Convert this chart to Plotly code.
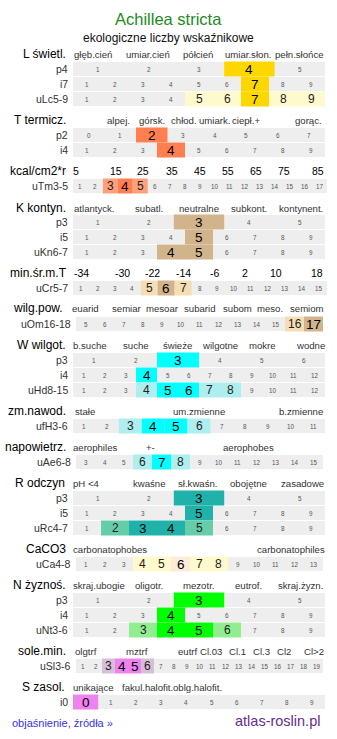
import plotly.graph_objects as go

# ------------------------------------------------------------------ data
TITLE = "Achillea stricta"
SUBTITLE = "ekologiczne liczby wskaźnikowe"
FOOT_LEFT = "objaśnienie, źródła »"
FOOT_RIGHT = "atlas-roslin.pl"

# section headers
headers = ["L świetl.", "T termicz.", "kcal/cm2*r", "K kontyn.", "min.śr.m.T",
           "wilg.pow.", "W wilgot.", "zm.nawod.", "napowietrz.", "R odczyn",
           "CaCO3", "N żyznoś.", "sole.min.", "S zasol."]

# category labels above the rows
L_labels = ["głęb.cień", "umiar.cień", "półcień", "umiar.słon.", "pełn.słońce"]
T_labels = ["alpej.", "górsk.", "chłod.", "umiark.", "ciepł.+", "gorąc."]
kcal_labels = ["5", "15", "25", "35", "45", "55", "65", "75", "85"]
K_labels = ["atlantyck.", "subatl.", "neutralne", "subkont.", "kontynent."]
minT_labels = ["-34", "-30", "-22", "-14", "-6", "2", "10", "18"]
wilg_labels = ["euarid", "semiar", "mesoar", "subarid", "subom", "meso.", "semiom"]
W_labels = ["b.suche", "suche", "świeże", "wilgotne", "mokre", "wodne"]
zm_labels = ["stałe", "um.zmienne", "b.zmienne"]
nap_labels = ["aerophiles", "+-", "aerophobes"]
R_labels = ["pH <4", "kwaśne", "sł.kwaśn.", "obojętne", "zasadowe"]
Ca_labels = ["carbonatophobes", "carbonatophiles"]
N_labels = ["skraj.ubogie", "oligotr.", "mezotr.", "eutrof.", "skraj.żyzn."]
sole_labels = ["olgtrf", "mztrf", "eutrf", "Cl.03", "Cl.1", "Cl.3", "Cl2", "Cl>2"]
S_labels = ["unikające", "fakul.halofit.", "oblg.halofit."]

# rows: name, first scale value, last scale value, main values, side values
L_rows = ["p4", "i7", "uLc5-9"];      L_lo = [1, 1, 1];   L_hi = [5, 9, 9]
L_main = [[4], [7], [7]];             L_side = [[], [], [5, 6, 8, 9]]
T_rows = ["p2", "i4"];                T_lo = [0, 1];      T_hi = [7, 9]
T_main = [[2], [4]];                  T_side = [[], []]
kcal_rows = ["uTm3-5"];               kcal_lo = [1];      kcal_hi = [17]
kcal_main = [[4]];                    kcal_side = [[3, 5]]
K_rows = ["p3", "i5", "uKn6-7"];      K_lo = [1, 1, 1];   K_hi = [5, 9, 9]
K_main = [[3], [5], [4, 5]];          K_side = [[], [], []]
minT_rows = ["uCr5-7"];               minT_lo = [1];      minT_hi = [15]
minT_main = [[6]];                    minT_side = [[5, 7]]
wilg_rows = ["uOm16-18"];             wilg_lo = [5];      wilg_hi = [17]
wilg_main = [[17]];                   wilg_side = [[16]]
W_rows = ["p3", "i4", "uHd8-15"];     W_lo = [1, 1, 1];   W_hi = [6, 12, 12]
W_main = [[3], [4], [5, 6]];          W_side = [[], [], [4, 7, 8]]
zm_rows = ["ufH3-6"];                 zm_lo = [1];        zm_hi = [11]
zm_main = [[4, 5]];                   zm_side = [[3, 6]]
nap_rows = ["uAe6-8"];                nap_lo = [3];       nap_hi = [15]
nap_main = [[7]];                     nap_side = [[6, 8]]
R_rows = ["p3", "i5", "uRc4-7"];      R_lo = [1, 1, 1];   R_hi = [5, 9, 9]
R_main = [[3], [5], [3, 4]];          R_side = [[], [], [2, 5]]
Ca_rows = ["uCa4-8"];                 Ca_lo = [1];        Ca_hi = [13]
Ca_main = [[6]];                      Ca_side = [[4, 5, 7, 8]]
N_rows = ["p3", "i4", "uNt3-6"];      N_lo = [1, 1, 1];   N_hi = [5, 9, 9]
N_main = [[3], [4], [4, 5]];          N_side = [[], [], [3, 6]]
sole_rows = ["uSl3-6"];               sole_lo = [1];      sole_hi = [19]
sole_main = [[4, 5]];                 sole_side = [[3, 6]]
S_rows = ["i0"];                      S_lo = [0];         S_hi = [9]
S_main = [[0]];                       S_side = [[]]

# ------------------------------------------------------------------ layout / style
FONT = "Liberation Sans, Arial, sans-serif"
W, H = 337, 739
GRAY = "#eeeeee"
PITCH = 15

sections = [
    # labels, rows, lo, hi, main, side, header y, first row y, span, label centres, main colour, side colour
    (L_labels, L_rows, L_lo, L_hi, L_main, L_side, 54, 69, (73, 325),
     [93, 148, 198, 248, 299], "#ffd700", "#fffacd"),
    (T_labels, T_rows, T_lo, T_hi, T_main, T_side, 120, 135, (73, 325),
     [118, 152, 184, 214, 246, 308], "#ff7f50", "#ffa07a"),
    (kcal_labels, kcal_rows, kcal_lo, kcal_hi, kcal_main, kcal_side, 171, 186, (73, 327),
     [76, 115.5, 143, 172, 200, 228, 256, 284, 318], "#ff7f50", "#ffa07a"),
    (K_labels, K_rows, K_lo, K_hi, K_main, K_side, 208, 222, (73, 325),
     [94, 149, 199, 249, 301], "#d2b48c", "#f5deb3"),
    (minT_labels, minT_rows, minT_lo, minT_hi, minT_main, minT_side, 273, 288, (73, 327),
     [81, 122, 152.5, 183, 214, 245, 276, 317], "#d2b48c", "#f5deb3"),
    (wilg_labels, wilg_rows, wilg_lo, wilg_hi, wilg_main, wilg_side, 308, 324, (76, 323),
     [85.5, 126.5, 162, 199, 237, 270, 307], "#d2b48c", "#f5deb3"),
    (W_labels, W_rows, W_lo, W_hi, W_main, W_side, 345, 360, (73, 325),
     [89.5, 136, 177, 220, 262, 310], "#00ffff", "#afeeee"),
    (zm_labels, zm_rows, zm_lo, zm_hi, zm_main, zm_side, 411, 426, (73, 325),
     [85, 199, 301], "#00ffff", "#afeeee"),
    (nap_labels, nap_rows, nap_lo, nap_hi, nap_main, nap_side, 447, 462, (76, 323),
     [94.5, 150, 248], "#00ffff", "#afeeee"),
    (R_labels, R_rows, R_lo, R_hi, R_main, R_side, 483, 498, (73, 325),
     [86.5, 149, 197, 248, 302], "#20b2aa", "#66cdaa"),
    (Ca_labels, Ca_rows, Ca_lo, Ca_hi, Ca_main, Ca_side, 549, 564, (76, 323),
     [110, 290.5], "#ffebd9", "#fffacd"),
    (N_labels, N_rows, N_lo, N_hi, N_main, N_side, 585, 600, (73, 325),
     [99, 149, 198, 248, 300], "#00ff00", "#90ee90"),
    (sole_labels, sole_rows, sole_lo, sole_hi, sole_main, sole_side, 651, 666, (76, 323),
     [85.5, 136.5, 188, 211, 237, 261.5, 283.5, 313.5], "#ee82ee", "#d8bfd8"),
    (S_labels, S_rows, S_lo, S_hi, S_main, S_side, 687, 702, (73, 325),
     [93, 147, 197], "#ee82ee", "#d8bfd8"),
]
HEAD_X = [68, 68, 68, 68, 69, 65, 68, 68, 68, 67, 68, 68, 68, 67]


def esc(s):
    return s.replace("&", "&amp;").replace("<", "&lt;").replace(">", "&gt;")


annotations = []
shapes = []


def txt(x, y, s, size, color="#000000", anchor="center"):
    annotations.append(dict(x=x, y=y, xref="x", yref="y", text=esc(s), showarrow=False,
                            xanchor=anchor, yanchor="middle",
                            font=dict(size=size, color=color, family=FONT)))


def rect(x0, x1, y0, y1, color):
    shapes.append(dict(type="rect", xref="x", yref="y", x0=x0, x1=x1, y0=y0, y1=y1,
                       fillcolor=color, line=dict(width=0), layer="below"))


# title
txt(W / 2, 19, TITLE, 16.5, "#228b22")
txt(W / 2, 38, SUBTITLE, 12, "#111111")

for si, (labels, rows, lo, hi, main, side, hy, ry, span, lx, cmain, cside) in enumerate(sections):
    txt(HEAD_X[si], hy, headers[si], 12, "#000000", "right")
    for lab, x in zip(labels, lx):
        size = 10.5 if si in (2, 4) else 9.6
        col = "#000000" if si in (2, 4) else "#333333"
        txt(x, hy, lab, size, col)
    x0, x1 = span
    for ri, name in enumerate(rows):
        yc = ry + ri * PITCH
        txt(x0 - 3.5, yc, name, 10.5, "#333333", "right")
        rect(x0, x1, yc - 7, yc + 7, GRAY)
        n = hi[ri] - lo[ri] + 1
        w = (x1 - x0) / n
        for k, v in enumerate(range(lo[ri], hi[ri] + 1)):
            cx0 = x0 + k * w
            cx = cx0 + w / 2
            if v in main[ri]:
                rect(cx0, cx0 + w, yc - 7.5, yc + 7.5, cmain)
                txt(cx, yc, str(v), 13.5, "#000000")
            elif v in side[ri]:
                rect(cx0, cx0 + w, yc - 7.5, yc + 7.5, cside)
                txt(cx, yc, str(v), 12, "#222222")
            else:
                txt(cx, yc, str(v), 6.3, "#555555")

# footer
txt(10, 723, FOOT_LEFT, 11, "#3333ee", "left")
txt(322, 721, FOOT_RIGHT, 14.5, "#662d91", "right")

fig = go.Figure(go.Scatter(x=[0], y=[0], mode="markers", marker=dict(opacity=0), hoverinfo="skip"))
fig.update_layout(
    width=W, height=H, margin=dict(l=0, r=0, t=0, b=0),
    paper_bgcolor="white", plot_bgcolor="white", showlegend=False,
    xaxis=dict(range=[0, W], visible=False, fixedrange=True),
    yaxis=dict(range=[H, 0], visible=False, fixedrange=True),
    annotations=annotations, shapes=shapes,
)
fig.write_html("out.html", config={"displayModeBar": False})
